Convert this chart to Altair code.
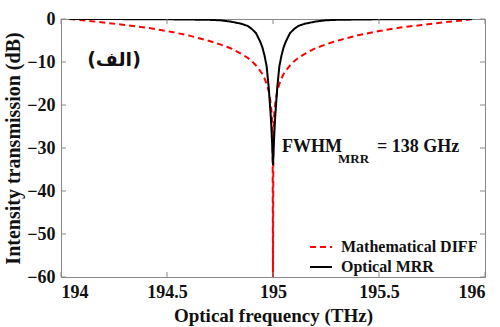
import altair as alt
import pandas as pd

# Frequency samples (THz)
freq = [194.04, 194.1, 194.2, 194.3, 194.4, 194.5, 194.6, 194.7, 194.75, 194.8,
        194.85, 194.88, 194.9, 194.92, 194.94, 194.95, 194.96, 194.97, 194.98,
        194.99, 194.995, 194.998, 195.0,
        195.002, 195.005, 195.01, 195.02, 195.03, 195.04, 195.05, 195.06, 195.08,
        195.1, 195.12, 195.15, 195.2, 195.25, 195.3, 195.4, 195.5, 195.6, 195.7,
        195.8, 195.9, 195.94]

# Mathematical differentiator response (dB)
diff_db = [0.0, -0.3, -0.8, -1.4, -2.0, -2.8, -3.8, -5.1, -5.9, -6.8,
           -8.1, -9.0, -9.8, -10.8, -12.1, -12.8, -13.8, -15.1, -16.8,
           -19.8, -22.8, -26.8, -60.0,
           -26.8, -22.8, -19.8, -16.8, -15.1, -13.8, -12.8, -12.1, -10.8,
           -9.8, -9.0, -8.1, -6.8, -5.9, -5.1, -3.8, -2.8, -2.0, -1.4,
           -0.8, -0.3, 0.0]

# Optical micro-ring resonator response (dB)
mrr_db = [0.0, 0.0, -0.02, -0.03, -0.05, -0.07, -0.12, -0.2, -0.3, -0.6,
          -1.1, -1.6, -2.3, -3.3, -5.3, -6.6, -8.5, -11.0, -16.0,
          -23.0, -28.0, -31.5, -34.0,
          -31.5, -28.0, -23.0, -16.0, -11.0, -8.5, -6.6, -5.3, -3.3,
          -2.3, -1.6, -1.1, -0.6, -0.3, -0.2, -0.12, -0.07, -0.05, -0.03,
          -0.02, 0.0, 0.0]

series_names = ["Mathematical DIFF", "Optical MRR"]
x_ticks = [194, 194.5, 195, 195.5, 196]
y_ticks = [0, -10, -20, -30, -40, -50, -60]

W, H = 424, 258
FONT = "Liberation Serif"
AX = "#888888"

df = pd.DataFrame({
    "f": freq * 2,
    "db": diff_db + mrr_db,
    "series": [series_names[0]] * len(freq) + [series_names[1]] * len(freq),
})

xs = alt.Scale(domain=[194, 196], nice=False)
ys = alt.Scale(domain=[-60, 0], nice=False)

leg = alt.Legend(title=None, orient="none", legendX=248, legendY=216,
                 symbolType="stroke", symbolSize=484, symbolStrokeWidth=2,
                 labelFontSize=16, labelFont=FONT, labelFontWeight="bold",
                 labelColor="#111", rowPadding=-2, padding=0, labelOffset=8)

lines = alt.Chart(df).mark_line(strokeWidth=2, clip=True).encode(
    x=alt.X("f:Q", scale=xs,
            axis=alt.Axis(values=x_ticks, title="Optical frequency (THz)", grid=False,
                          tickSize=0, labelPadding=6, titlePadding=5,
                          titleFontSize=19, format="~g")),
    y=alt.Y("db:Q", scale=ys,
            axis=alt.Axis(values=y_ticks, title="Intensity transmission (dB)", grid=False,
                          tickSize=0, labelPadding=6, titlePadding=3,
                          titleFontSize=20)),
    color=alt.Color("series:N",
                    scale=alt.Scale(domain=series_names, range=["#ff0000", "#000000"]),
                    legend=leg),
    strokeDash=alt.StrokeDash("series:N",
                              scale=alt.Scale(domain=series_names, range=[[6, 4], [1, 0]]),
                              legend=leg),
    order=alt.Order("series:N", sort="descending"),
)

xt = pd.DataFrame({"t": x_ticks})
yt = pd.DataFrame({"t": y_ticks})
tick_b = alt.Chart(xt).mark_rule(color=AX).encode(
    x=alt.X("t:Q", scale=xs), y=alt.value(H), y2=alt.value(H - 5))
tick_t = alt.Chart(xt).mark_rule(color=AX).encode(
    x=alt.X("t:Q", scale=xs), y=alt.value(0), y2=alt.value(5))
tick_l = alt.Chart(yt).mark_rule(color=AX).encode(
    y=alt.Y("t:Q", scale=ys), x=alt.value(0), x2=alt.value(5))
tick_r = alt.Chart(yt).mark_rule(color=AX).encode(
    y=alt.Y("t:Q", scale=ys), x=alt.value(W), x2=alt.value(W - 5))

label_df = pd.DataFrame({"f": [194.25], "db": [-9.5], "txt": ["(الف)"]})
arabic = alt.Chart(label_df).mark_text(font="DejaVu Sans", fontSize=19, fontWeight="bold",
                                       align="center", baseline="middle", color="#111").encode(
    x=alt.X("f:Q", scale=xs), y=alt.Y("db:Q", scale=ys), text="txt:N")

fw_df = pd.DataFrame({"f": [195.042], "db": [-30.9], "txt": ["FWHM"]})
sub_df = pd.DataFrame({"f": [195.307], "db": [-33.4], "txt": ["MRR"]})
eq_df = pd.DataFrame({"f": [195.49], "db": [-30.9], "txt": ["= 138 GHz"]})
fw = alt.Chart(fw_df).mark_text(font=FONT, fontSize=18, fontWeight="bold", align="left",
                                baseline="alphabetic", color="#111").encode(
    x=alt.X("f:Q", scale=xs), y=alt.Y("db:Q", scale=ys), text="txt:N")
sub = alt.Chart(sub_df).mark_text(font=FONT, fontSize=13, fontWeight="bold", align="left",
                                  baseline="alphabetic", color="#111").encode(
    x=alt.X("f:Q", scale=xs), y=alt.Y("db:Q", scale=ys), text="txt:N")
eq = alt.Chart(eq_df).mark_text(font=FONT, fontSize=18, fontWeight="bold", align="left",
                                baseline="alphabetic", color="#111").encode(
    x=alt.X("f:Q", scale=xs), y=alt.Y("db:Q", scale=ys), text="txt:N")

chart = alt.layer(lines, tick_b, tick_t, tick_l, tick_r, arabic, fw, sub, eq).resolve_scale(
    color="independent", strokeDash="independent"
).properties(
    width=W, height=H,
    autosize=alt.AutoSizeParams(type="none"),
    padding={"left": 61, "top": 19, "right": 15, "bottom": 50},
    background="white",
).configure_view(stroke=AX, strokeWidth=1).configure_axis(
    domainColor=AX, labelFont=FONT, labelFontSize=18, labelFontWeight="bold",
    labelColor="#111", titleFont=FONT, titleFontWeight="bold",
    titleColor="#111",
)

chart.save("out.html", embed_options={"renderer": "svg", "actions": False})
